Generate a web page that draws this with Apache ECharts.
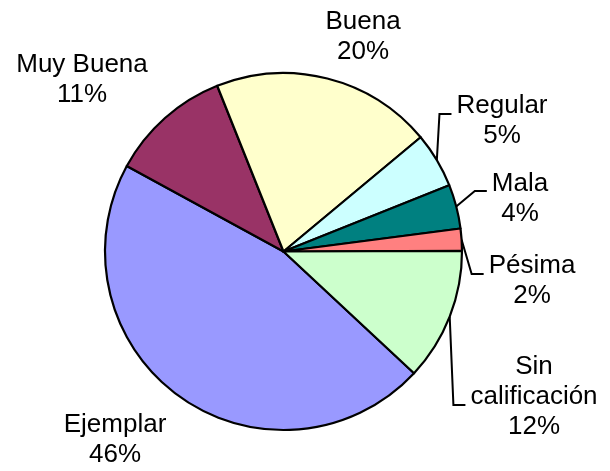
<!DOCTYPE html>
<html>
<head>
<meta charset="utf-8">
<script src="https://cdn.jsdelivr.net/npm/echarts@6/dist/echarts.min.js"></script>
<style>
html,body{margin:0;padding:0;background:#fff;}
#chart{width:610px;height:471px;}
</style>
</head>
<body>
<div id="chart"></div>
<script>
// ---- data ----
var categories = ['Ejemplar', 'Muy Buena', 'Buena', 'Regular', 'Mala', 'Pésima', 'Sin calificación'];
var values = [46, 11, 20, 5, 4, 2, 12];
var colors = ['#9999FF', '#993366', '#FFFFCC', '#CCFFFF', '#008080', '#FF8080', '#CCFFCC'];
var showLine = [false, false, false, true, true, true, true];

// ---- label layout (label block centres and leader-line offsets) ----
var labelPos = [
  [115, 440, 0],
  [82, 80, 0],
  [363, 37, 0],
  [502, 121, -7],
  [520, 199, -8],
  [532, 281, -7],
  [534, 397, 8]
];

var chart = echarts.init(document.getElementById('chart'), null, {renderer: 'canvas'});

var data = categories.map(function (name, i) {
  return {
    name: name,
    value: values[i],
    itemStyle: {color: colors[i]},
    labelLine: {show: showLine[i]}
  };
});

chart.setOption({
  backgroundColor: '#ffffff',
  animation: false,
  series: [{
    type: 'pie',
    center: [283.5, 251.5],
    radius: 178.5,
    startAngle: -43,
    clockwise: true,
    avoidLabelOverlap: false,
    percentPrecision: 0,
    data: data,
    itemStyle: {borderColor: '#000', borderWidth: 2.2},
    label: {
      show: true,
      position: 'outside',
      color: '#000',
      fontFamily: 'Liberation Sans, Arial, sans-serif',
      fontSize: 26,
      lineHeight: 30,
      align: 'center',
      formatter: function (p) {
        var n = p.name.length > 12 ? p.name.replace(' ', '\n') : p.name;
        return n + '\n' + p.percent + '%';
      }
    },
    labelLine: {
      length: 10,
      length2: 10,
      lineStyle: {color: '#000', width: 2}
    },
    labelLayout: function (params) {
      var i = params.dataIndex;
      var lp = labelPos[i];
      var r = params.labelRect;
      var res = {x: lp[0], y: lp[1], align: 'center', verticalAlign: 'middle'};
      var pts = params.labelLinePoints;
      if (showLine[i] && pts && pts.length) {
        var left = lp[0] - r.width / 2;
        var ly = lp[1] + lp[2];
        var p2 = [left - 5, ly];
        var p1 = [left - 17, ly];
        res.labelLinePoints = [pts[0], p1, p2];
      }
      return res;
    }
  }]
});
</script>
</body>
</html>
